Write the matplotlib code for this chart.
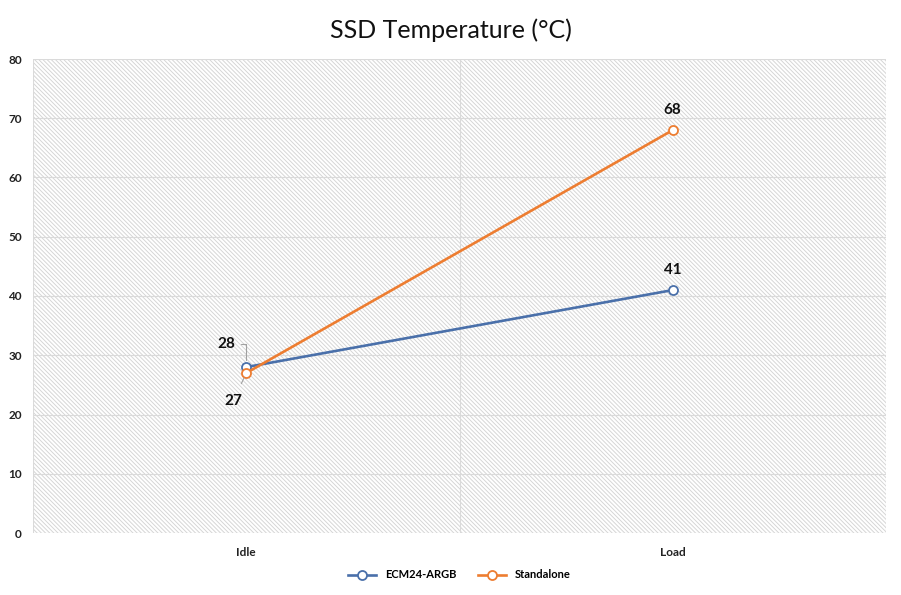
import matplotlib
matplotlib.use("Agg")
import matplotlib.pyplot as plt
from matplotlib.patches import Rectangle

categories = ["Idle", "Load"]
ecm = [28, 41]
standalone = [27, 68]
series_names = ["ECM24-ARGB", "Standalone"]
colors = ["#4A70AA", "#ED7D31"]
yticks = [0, 10, 20, 30, 40, 50, 60, 70, 80]

plt.rcParams['font.family'] = ['Lato', 'DejaVu Sans']
plt.rcParams['hatch.linewidth'] = 0.7

fig = plt.figure(figsize=(9.01, 5.95), dpi=100)
ax = fig.add_axes([33/901, 1-533/595, (886-33)/901, (533-59)/595])

ax.add_patch(Rectangle((0, 0), 1, 1, transform=ax.transAxes, facecolor='white',
                       edgecolor='#D6D6D6', linewidth=0, hatch='\\' * 8, zorder=0))

x = [0.5, 1.5]
ax.set_xlim(0, 2)
ax.set_ylim(0, 80)
ax.set_yticks(yticks)
ax.set_yticklabels([str(v) for v in yticks], fontsize=8.5, fontweight='bold', color='#222222')
ax.set_xticks(x)
ax.set_xticklabels(categories, fontsize=8.5, fontweight='bold', color='#222222')
ax.tick_params(length=0, pad=8)
ax.tick_params(axis='x', pad=10)
for v in yticks:
    ax.axhline(v, color='#DADADA', lw=0.8, zorder=1)
for v in [0, 1, 2]:
    ax.axvline(v, color='#DADADA', lw=0.8, zorder=1)
for s in ax.spines.values():
    s.set_visible(False)

for vals, name, c in zip([ecm, standalone], series_names, colors):
    ax.plot(x, vals, color=c, lw=1.9, marker='o', markersize=6.5,
            markerfacecolor='white', markeredgecolor=c, markeredgewidth=1.3,
            label=name, zorder=3)

fs = 11
ax.annotate(str(ecm[0]), xy=(x[0], ecm[0]), xytext=(-20, 23), textcoords='offset pixels',
            ha='center', va='center', fontsize=fs, fontweight='bold', color='#111111',
            arrowprops=dict(arrowstyle='-', color='#A0A0A0', lw=0.8,
                            connectionstyle='angle,angleA=0,angleB=90,rad=0',
                            shrinkA=2, shrinkB=5))
ax.annotate(str(standalone[0]), xy=(x[0], standalone[0]), xytext=(-13, -28), textcoords='offset pixels',
            ha='center', va='center', fontsize=fs, fontweight='bold', color='#111111',
            arrowprops=dict(arrowstyle='-', color='#A0A0A0', lw=0.8, shrinkA=6, shrinkB=4))
ax.annotate(str(ecm[1]), xy=(x[1], ecm[1]), xytext=(0, 20), textcoords='offset pixels',
            ha='center', va='center', fontsize=fs, fontweight='bold', color='#111111')
ax.annotate(str(standalone[1]), xy=(x[1], standalone[1]), xytext=(0, 20), textcoords='offset pixels',
            ha='center', va='center', fontsize=fs, fontweight='bold', color='#111111')

fig.text(0.5, 1-30/595, "SSD Temperature (°C)", ha='center', va='center', fontsize=18, color='#111111')

leg = ax.legend(loc='center', bbox_to_anchor=(0.5, -(575-533)/474), ncol=2, frameon=False,
                prop={'weight': 'bold', 'size': 8}, handlelength=2.5, columnspacing=2)

fig.savefig("out.png", dpi=100)
